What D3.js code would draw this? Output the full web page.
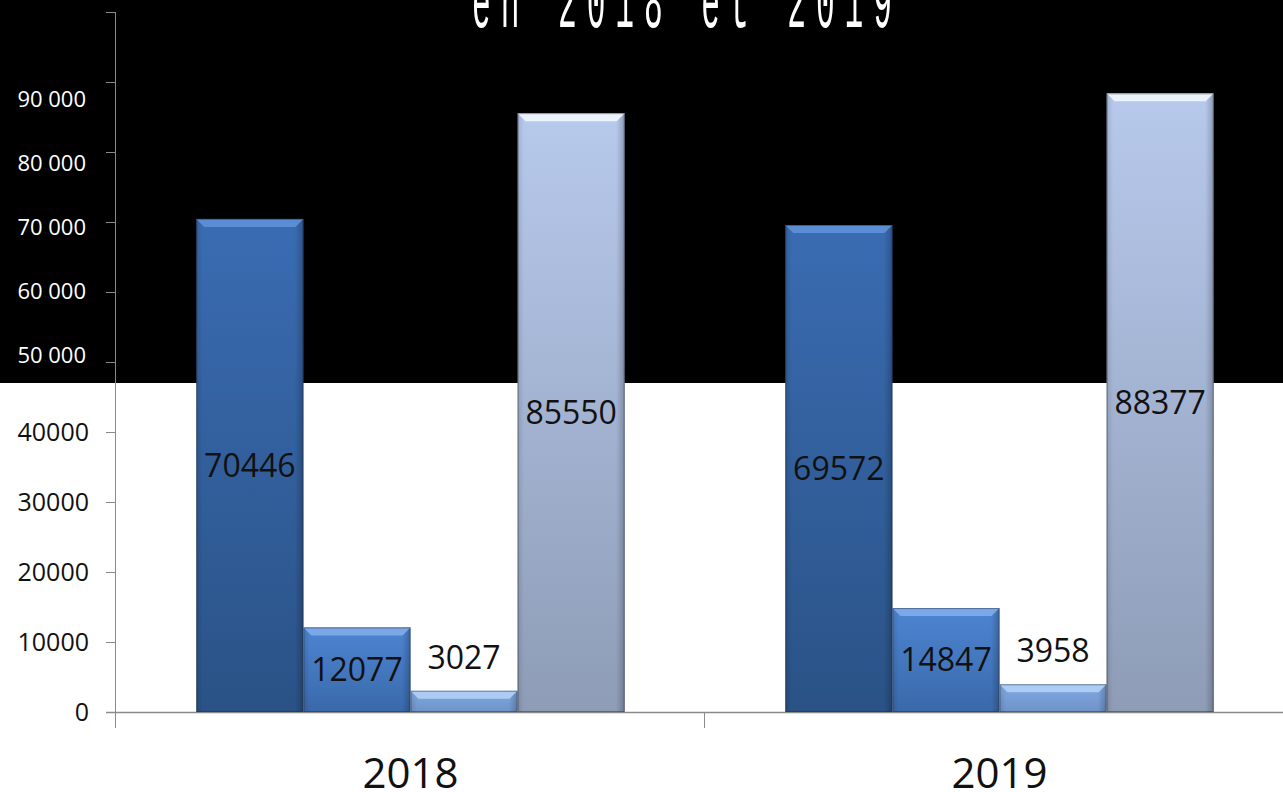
<!DOCTYPE html>
<html>
<head>
<meta charset="utf-8">
<script src="https://cdn.jsdelivr.net/npm/d3@7/dist/d3.min.js"></script>
<style>
  html, body { margin: 0; padding: 0; background: #ffffff; }
  svg { display: block; }
</style>
</head>
<body>
<svg id="chart" width="1283" height="792"></svg>
<script>
// Categories and series
const years = ["2018", "2019"];
const seriesKeys = ["s1", "s2", "s3", "s4"];
const values2018 = [70446, 12077, 3027, 85550];
const values2019 = [69572, 14847, 3958, 88377];
const seriesValues = [values2018, values2019];

// Axis ticks drawn on the white lower panel
const lowerTicks = [0, 10000, 20000, 30000, 40000];
const lowerTickLabels = ["0", "10000", "20000", "30000", "40000"];
// Tick marks along the full axis
const axisTicks = [0, 10000, 20000, 30000, 40000, 50000, 60000, 70000, 80000, 90000, 100000];
// Labels printed on the black banner
const bannerTicks = [50000, 60000, 70000, 80000, 90000];
const bannerTickLabels = ["50 000", "60 000", "70 000", "80 000", "90 000"];

const titleText = "en 2018 et 2019";

// Bar styling per series
const barTop    = ["#3a6cb2", "#4d85d2", "#80a9e3", "#b7c9ec"];
const barBottom = ["#2a5286", "#3a69aa", "#6f93c8", "#8e9cb6"];
const bevelCol  = ["#5d8fd6", "#7daaea", "#b0cdf4", "#eef5fd"];

const svg = d3.select("#chart");
const W = 1283, H = 792;

const y = d3.scaleLinear().domain([0, 100000]).range([712, 12]);
const x0 = d3.scaleBand().domain(years).range([116, 1294]).padding(0);
const x1 = d3.scaleBand().domain(seriesKeys).range([0, x0.bandwidth()])
  .paddingInner(0).paddingOuter(0.75);
// Banner labels sit on their own evenly spaced positions
const yBanner = d3.scaleLinear().domain([50000, 90000]).range([355, 99]);

// Black banner across the top
svg.append("rect").attr("x", 0).attr("y", 0).attr("width", W).attr("height", 383)
  .attr("fill", "#000000");

// Title (its upper part runs off the top edge)
const tScale = 0.40;
svg.append("text")
  .attr("transform", `translate(472,27) scale(${tScale},1)`)
  .attr("x", 0).attr("y", 0)
  .attr("textLength", 420 / tScale)
  .attr("lengthAdjust", "spacing")
  .attr("font-family", "Liberation Mono, DejaVu Sans Mono, monospace")
  .attr("font-size", 78)
  .attr("fill", "#ffffff")
  .text(titleText);

// Gradients
const defs = svg.append("defs");
seriesKeys.forEach((k, i) => {
  const g = defs.append("linearGradient").attr("id", "grad-" + k)
    .attr("x1", 0).attr("y1", 0).attr("x2", 0).attr("y2", 1);
  g.append("stop").attr("offset", "0%").attr("stop-color", barTop[i]);
  g.append("stop").attr("offset", "100%").attr("stop-color", barBottom[i]);
  const s = defs.append("linearGradient").attr("id", "side-" + k)
    .attr("x1", 0).attr("y1", 0).attr("x2", 1).attr("y2", 0);
  s.append("stop").attr("offset", "0%").attr("stop-color", "#000").attr("stop-opacity", 0.12);
  s.append("stop").attr("offset", "6%").attr("stop-color", "#000").attr("stop-opacity", 0);
  s.append("stop").attr("offset", "92%").attr("stop-color", "#000").attr("stop-opacity", 0);
  s.append("stop").attr("offset", "100%").attr("stop-color", "#000").attr("stop-opacity", 0.22);
});

// Axis line and tick marks
const axisCol = "#8a8a8a";
svg.append("line").attr("x1", 115.5).attr("x2", 115.5).attr("y1", y(100000)).attr("y2", 728)
  .attr("stroke", axisCol).attr("stroke-width", 1);
svg.selectAll(".ytick").data(axisTicks).enter().append("line")
  .attr("x1", 106).attr("x2", 116)
  .attr("y1", d => Math.round(y(d)) + 0.5).attr("y2", d => Math.round(y(d)) + 0.5)
  .attr("stroke", axisCol).attr("stroke-width", 1);
svg.append("line").attr("x1", 106).attr("x2", W).attr("y1", y(0) + 0.5).attr("y2", y(0) + 0.5)
  .attr("stroke", axisCol).attr("stroke-width", 1.5);
svg.selectAll(".xtick").data(years.slice(1)).enter().append("line")
  .attr("x1", d => x0(d) - 0.5).attr("x2", d => x0(d) - 0.5)
  .attr("y1", y(0)).attr("y2", 728)
  .attr("stroke", axisCol).attr("stroke-width", 1);

// Lower tick labels
svg.selectAll(".ylab").data(lowerTicks).enter().append("text")
  .attr("x", 89).attr("y", d => y(d))
  .attr("dy", "0.35em")
  .attr("text-anchor", "end")
  .attr("font-family", "Open Sans, Liberation Sans, sans-serif")
  .attr("font-size", 25)
  .attr("fill", "#111")
  .text((d, i) => lowerTickLabels[i]);

// Banner tick labels
svg.selectAll(".blab").data(bannerTicks).enter().append("text")
  .attr("x", 86).attr("y", d => yBanner(d))
  .attr("dy", "0.35em")
  .attr("text-anchor", "end")
  .attr("font-family", "Open Sans, Liberation Sans, sans-serif")
  .attr("font-size", 22)
  .attr("fill", "#ffffff")
  .text((d, i) => bannerTickLabels[i]);

// Bars
const groups = svg.selectAll(".grp").data(years).enter().append("g")
  .attr("transform", d => `translate(${x0(d)},0)`);

groups.each(function(year, yi) {
  const g = d3.select(this);
  const vals = seriesValues[yi];
  seriesKeys.forEach((k, i) => {
    const v = vals[i];
    const bx = x1(k), bw = x1.bandwidth();
    const top = y(v), bottom = y(0);
    const bev = Math.min(8, (bottom - top) / 2);
    g.append("rect").attr("x", bx).attr("y", top).attr("width", bw).attr("height", bottom - top)
      .attr("fill", `url(#grad-${k})`);
    g.append("rect").attr("x", bx).attr("y", top).attr("width", bw).attr("height", bottom - top)
      .attr("fill", `url(#side-${k})`);
    // top bevel
    g.append("path")
      .attr("d", `M${bx},${top} L${bx + bw},${top} L${bx + bw - bev},${top + bev} L${bx + bev},${top + bev} Z`)
      .attr("fill", bevelCol[i]).attr("opacity", 0.95);
    // outline
    g.append("rect").attr("x", bx + 0.5).attr("y", top + 0.5).attr("width", bw - 1).attr("height", bottom - top - 1)
      .attr("fill", "none").attr("stroke", "rgba(40,40,50,0.45)").attr("stroke-width", 1);
  });
});

// Value labels
groups.each(function(year, yi) {
  const g = d3.select(this);
  const vals = seriesValues[yi];
  seriesKeys.forEach((k, i) => {
    const v = vals[i];
    const cx = x1(k) + x1.bandwidth() / 2;
    const inside = (y(0) - y(v)) > 60;
    const cy = inside ? (y(0) + y(v)) / 2 : y(v) - 33;
    g.append("text")
      .attr("x", cx).attr("y", cy).attr("dy", "0.35em")
      .attr("text-anchor", "middle")
      .attr("font-family", "Open Sans, Liberation Sans, sans-serif")
      .attr("font-size", 32)
      .attr("fill", "#111")
      .text(v);
  });
});

// Category labels
svg.selectAll(".xlab").data(years).enter().append("text")
  .attr("x", d => x0(d) + x0.bandwidth() / 2)
  .attr("y", 773).attr("dy", "0.35em")
  .attr("text-anchor", "middle")
  .attr("font-family", "Open Sans, Liberation Sans, sans-serif")
  .attr("font-size", 42)
  .attr("fill", "#111")
  .text(d => d);
</script>
</body>
</html>
